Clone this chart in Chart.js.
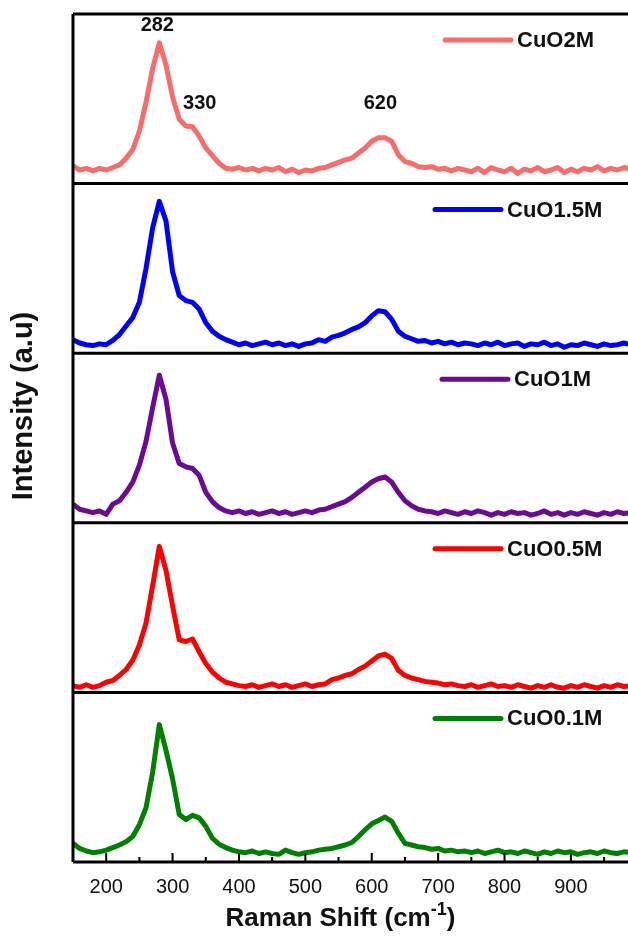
<!DOCTYPE html>
<html>
<head>
<meta charset="utf-8">
<script src="https://cdn.jsdelivr.net/npm/chart.js@4.4.1/dist/chart.umd.min.js"></script>
<style>
  html, body { margin: 0; padding: 0; background: #fff; }
</style>
</head>
<body>
<canvas id="raman_chart" width="628" height="938"></canvas>
<script>
// Raman shift axis (cm-1), one reading every 10 cm-1
const shift = [150, 160, 170, 180, 190, 200, 210, 220, 230, 240,
  250, 260, 270, 280, 290, 300, 310, 320, 330, 340,
  350, 360, 370, 380, 390, 400, 410, 420, 430, 440,
  450, 460, 470, 480, 490, 500, 510, 520, 530, 540,
  550, 560, 570, 580, 590, 600, 610, 620, 630, 640,
  650, 660, 670, 680, 690, 700, 710, 720, 730, 740,
  750, 760, 770, 780, 790, 800, 810, 820, 830, 840,
  850, 860, 870, 880, 890, 900, 910, 920, 930, 940,
  950, 960, 970, 980, 990];

// intensities (a.u), each panel scaled 0..100
const cuo_2m = [10.5, 8, 9, 7.5, 9, 8, 9.5, 11, 15, 20,
  31, 48, 68, 83, 70, 51, 38, 34, 33.5, 28,
  21, 16.5, 12, 9, 8.5, 9.5, 8, 9, 7.5, 9,
  8, 9.5, 7, 8.5, 6.5, 8, 7.5, 9, 9.5, 11,
  12.5, 14, 15, 18, 21, 25, 27, 27, 25, 17,
  13, 12, 10, 9.5, 10, 8.5, 9, 7.5, 9, 8,
  7, 9, 6.5, 9.5, 8, 7, 9, 6, 8.5, 7.5,
  9.5, 7, 8, 9.5, 6.5, 8.5, 7, 9, 8, 10,
  7.5, 9, 8, 9.5, 8.5];

const cuo_15m = [8, 6, 5, 4.5, 5.5, 5, 7.5, 11, 16, 21,
  30, 50, 74, 89.5, 78, 48, 34, 31, 30, 26,
  18, 13, 10, 8, 6.5, 5, 6, 4.5, 5.5, 6.5,
  5, 6, 4.5, 5.5, 4, 5.5, 6, 8, 7, 9.5,
  10.5, 12, 14, 15.5, 18, 22, 25, 24.5, 20, 13,
  10, 8.5, 7, 7.5, 6, 7, 5.5, 6.5, 5, 6,
  5.5, 4.5, 6, 5, 6.5, 4.5, 5.5, 6, 4, 5.5,
  5, 6.5, 4.5, 5.5, 3.5, 5, 4.5, 6, 5, 4,
  5.5, 4.5, 5, 6, 5];

const cuo_1m = [11, 8, 7, 6, 7, 5, 11, 13, 18, 24,
  34, 48, 68, 87, 73, 47, 35, 33, 32, 28,
  18, 12.5, 9, 7, 6, 7, 5.5, 6.5, 5, 6,
  7, 5.5, 6.5, 5, 6, 7, 6, 7.5, 8, 9.5,
  11, 12.5, 15, 18, 21, 24, 26, 27, 24, 18,
  13, 10, 8, 7, 6.5, 5.5, 7, 6, 5, 6.5,
  5.5, 7, 6, 4.5, 6, 5, 6.5, 5.5, 6, 4.5,
  5.5, 7, 5, 6, 4.5, 6, 5, 6.5, 5.5, 4.5,
  6, 5, 6.5, 5.5, 6];

const cuo_05m = [4, 3, 4.5, 3, 4, 6, 7, 10, 13.5, 19,
  28, 41, 63, 86, 72, 51, 31, 30, 31.5, 24,
  17, 12, 8.5, 6, 5, 4, 3.5, 4.5, 3, 4,
  5, 3.5, 4.5, 3, 4, 5, 3.5, 4.5, 5, 7.5,
  8.5, 10, 11, 13.5, 15.5, 18.5, 21.5, 22.5, 20, 13,
  10, 8.5, 7.5, 6.5, 6, 5.5, 4.5, 5, 4, 3.5,
  4.5, 3, 4, 5, 3.5, 4, 3, 4.5, 3.5, 2.5,
  4, 3, 4.5, 3, 2.5, 4, 3, 4.5, 3.5, 2.5,
  4, 3, 4.5, 3.5, 4];

const cuo_01m = [11, 8, 6.5, 5.5, 6, 7, 8.5, 10, 12, 15,
  22, 32, 53, 81, 66, 49, 28, 25, 27.5, 26,
  21, 14, 10.5, 8.5, 7, 6, 5.5, 6.5, 5, 6,
  5, 4.5, 7, 5.5, 4.5, 5.5, 6, 7, 7.5, 8,
  9, 10, 11.5, 15, 19, 22.5, 24.5, 26.5, 24, 17,
  11, 10, 9, 8.5, 7.5, 8, 6.5, 7, 6, 6.5,
  5.5, 6.5, 5, 6, 7, 5.5, 6, 5, 6.5, 5.5,
  4.5, 6, 5, 6.5, 5.5, 6, 4.5, 5.5, 6, 5,
  6.5, 5.5, 5, 6, 5.5];

// bottom panel first
const series_names = ['CuO0.1M', 'CuO0.5M', 'CuO1M', 'CuO1.5M', 'CuO2M'];
const series_values = [cuo_01m, cuo_05m, cuo_1m, cuo_15m, cuo_2m];
const series_colors = ['#008000', '#ff0000', '#6a0a96', '#0000ff', '#fa6b6b'];

const x_ticks = [200, 300, 400, 500, 600, 700, 800, 900];
const x_minor_ticks = [250, 350, 450, 550, 650, 750, 850, 950];

// band labels on the top panel
const peak_names = ['282', '330', '620'];
const peak_at = [277, 341, 613];
const peak_level = [93, 47, 47];

const x_title = 'Raman Shift (cm';
const x_title_sup = '-1';
const y_title = 'Intensity (a.u)';

const panel_span = 100;
const font_family = "'Liberation Sans', Arial, sans-serif";

const datasets = series_values.map((vals, i) => ({
  label: series_names[i],
  data: vals.map((v, j) => ({ x: shift[j], y: v + i * panel_span })),
  borderColor: series_colors[i],
  borderWidth: 5,
  borderJoinStyle: 'round',
  pointRadius: 0,
  tension: 0,
  fill: false
}));

const panel_plugin = {
  id: 'panels',
  afterDatasetsDraw(chart) {
    const ctx = chart.ctx;
    const area = chart.chartArea;
    const xs = chart.scales.x;
    const ys = chart.scales.y;
    const W = chart.width;
    ctx.save();

    // frame and panel dividers
    ctx.strokeStyle = '#000';
    ctx.lineWidth = 3;
    ctx.beginPath();
    ctx.moveTo(area.left, area.top);
    ctx.lineTo(area.left, area.bottom);
    for (let k = 0; k <= series_names.length; k++) {
      const y = ys.getPixelForValue(k * panel_span);
      ctx.moveTo(area.left, y);
      ctx.lineTo(W, y);
    }
    ctx.stroke();

    // inward ticks on the bottom axis
    ctx.lineWidth = 2;
    ctx.beginPath();
    x_ticks.forEach(v => {
      const x = xs.getPixelForValue(v);
      ctx.moveTo(x, area.bottom);
      ctx.lineTo(x, area.bottom - 9);
    });
    x_minor_ticks.forEach(v => {
      const x = xs.getPixelForValue(v);
      ctx.moveTo(x, area.bottom);
      ctx.lineTo(x, area.bottom - 5);
    });
    ctx.stroke();

    // one legend entry per panel
    const legend_x = [435, 435, 442, 435, 445];
    ctx.font = 'bold 22px ' + font_family;
    ctx.textBaseline = 'middle';
    ctx.textAlign = 'left';
    series_names.forEach((name, i) => {
      const top = ys.getPixelForValue((i + 1) * panel_span);
      const y = top + 26;
      const x0 = legend_x[i];
      ctx.strokeStyle = series_colors[i];
      ctx.lineWidth = 5;
      ctx.lineCap = 'round';
      ctx.beginPath();
      ctx.moveTo(x0, y);
      ctx.lineTo(x0 + 66, y);
      ctx.stroke();
      ctx.fillStyle = '#111';
      ctx.fillText(name, x0 + 72, y + 1);
    });

    // band labels
    ctx.font = 'bold 20px ' + font_family;
    ctx.textAlign = 'center';
    peak_names.forEach((t, i) => {
      const top_panel = (series_names.length - 1) * panel_span;
      ctx.fillText(t, xs.getPixelForValue(peak_at[i]), ys.getPixelForValue(top_panel + peak_level[i]));
    });

    // axis titles
    ctx.fillStyle = '#111';
    ctx.font = 'bold 26px ' + font_family;
    ctx.textBaseline = 'alphabetic';
    ctx.textAlign = 'left';
    const supFont = 'bold 18px ' + font_family;
    const w1 = ctx.measureText(x_title).width;
    ctx.font = supFont;
    const w2 = ctx.measureText(x_title_sup).width;
    ctx.font = 'bold 26px ' + font_family;
    const w3 = ctx.measureText(')').width;
    let tx = (area.left + area.right) / 2 - 10 - (w1 + w2 + w3) / 2;
    const ty = 926;
    ctx.fillText(x_title, tx, ty);
    tx += w1;
    ctx.font = supFont;
    ctx.fillText(x_title_sup, tx, ty - 11);
    tx += w2;
    ctx.font = 'bold 26px ' + font_family;
    ctx.fillText(')', tx, ty);

    ctx.translate(24, 406);
    ctx.rotate(-Math.PI / 2);
    ctx.textAlign = 'center';
    ctx.textBaseline = 'middle';
    ctx.font = 'bold 29px ' + font_family;
    ctx.fillText(y_title, 0, 0);
    ctx.restore();
  }
};

const ctx = document.getElementById('raman_chart').getContext('2d');
const raman_chart = new Chart(ctx, {
  type: 'line',
  data: { datasets: datasets },
  options: {
    responsive: false,
    animation: false,
    devicePixelRatio: 1,
    layout: { padding: { left: 73, top: 14, right: 0, bottom: 0 } },
    plugins: {
      legend: { display: false },
      tooltip: { enabled: false }
    },
    scales: {
      x: {
        type: 'linear',
        min: 150,
        max: 986,
        afterBuildTicks: s => { s.ticks = x_ticks.map(v => ({ value: v })); },
        afterFit: s => { s.height = 76; },
        ticks: {
          color: '#111',
          padding: 13,
          font: { family: font_family, size: 20 }
        },
        grid: { display: false, drawTicks: false },
        border: { display: false }
      },
      y: {
        min: 0,
        max: series_names.length * panel_span,
        display: false
      }
    }
  },
  plugins: [panel_plugin]
});
</script>
</body>
</html>
